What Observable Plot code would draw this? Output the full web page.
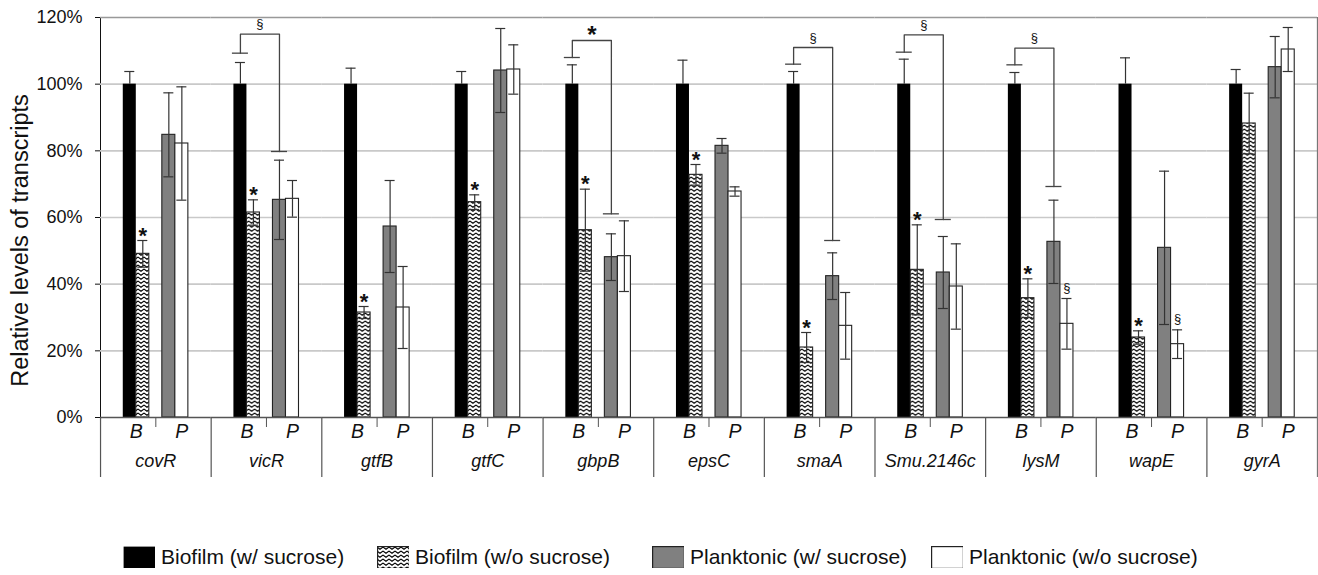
<!DOCTYPE html>
<html><head><meta charset="utf-8">
<script src="https://cdn.jsdelivr.net/npm/d3@7"></script>
<script src="https://cdn.jsdelivr.net/npm/@observablehq/plot@0.6"></script>
<style>
body{margin:0;background:#fff;font-family:"Liberation Sans",Arial,sans-serif;}
#legend{position:relative;height:30px;margin-top:45px;}
.item{position:absolute;top:0;display:flex;align-items:center;font-size:21px;color:#111;white-space:nowrap;}
.sw{width:32px;height:22px;box-sizing:border-box;margin-right:6px;display:block;}
</style></head><body>
<svg width="0" height="0" style="position:absolute">
<defs><pattern id="zz" patternUnits="userSpaceOnUse" width="6" height="4">
<rect width="6" height="4" fill="#fff"/>
<path d="M-0.2,0.9 L3,3.3 L6.2,0.9" fill="none" stroke="#000" stroke-width="1.1"/>
</pattern></defs></svg>
<div id="chart"></div>
<div id="legend"></div>
<script>
// ---- data (values in %) ----
const genes = ["covR","vicR","gtfB","gtfC","gbpB","epsC","smaA","Smu.2146c","lysM","wapE","gyrA"];
const seriesNames = ["Biofilm (w/ sucrose)","Biofilm (w/o sucrose)","Planktonic (w/ sucrose)","Planktonic (w/o sucrose)"];
const bioW      = [100, 100, 100, 100, 100, 100, 100, 100, 100, 100, 100];
const bioWErr   = [3.8, 6.5, 4.8, 3.8, 5.8, 7.2, 3.8, 7.5, 3.5, 7.9, 4.4];
const bioWo     = [49.1, 61.5, 31.5, 64.6, 56.2, 72.8, 21.0, 44.3, 35.8, 24.0, 88.2];
const bioWoErr  = [4.0, 3.8, 1.8, 2.2, 12.3, 3.1, 4.5, 13.5, 5.8, 2.0, 9.1];
const plankW    = [84.8, 65.3, 57.3, 104.1, 48.1, 81.5, 42.4, 43.5, 52.7, 50.9, 105.1];
const plankWErr = [12.6, 11.9, 13.8, 12.6, 7.0, 2.2, 7.0, 10.8, 12.5, 23.0, 9.2];
const plankWo   = [82.2, 65.6, 33.0, 104.4, 48.4, 67.8, 27.5, 39.3, 28.1, 22.0, 110.4];
const plankWoErr= [17.0, 5.5, 12.3, 7.4, 10.6, 1.4, 10.0, 12.8, 7.6, 4.3, 6.6];
const yTicks = [0, 20, 40, 60, 80, 100, 120];
const starGenes = ["covR","vicR","gtfB","gtfC","gbpB","epsC","smaA","Smu.2146c","lysM","wapE"];
const sectGenes = ["lysM","wapE"];
const bracketGenes = ["vicR","gbpB","smaA","Smu.2146c","lysM"];
const bracketLeft  = [109.3, 108.0, 106.0, 109.6, 105.8];
const bracketTop   = [115.0, 113.1, 111.0, 114.8, 110.8];
const bracketRight = [79.8, 61.1, 53.1, 59.4, 69.3];
const bracketLabel = ["§","*","§","§","§"];

// ---- derived tables ----
const slots = ["bw","bwo","gap","pw","pwo"];
const seriesKeys = ["bw","bwo","pw","pwo"];
const seriesFill = ["#000","url(#zz)","#808080","#fff"];
const values = [bioW, bioWo, plankW, plankWo];
const errs = [bioWErr, bioWoErr, plankWErr, plankWoErr];
const rows = genes.flatMap((g, i) => seriesKeys.map((s, k) => ({gene: g, slot: s, value: values[k][i], err: errs[k][i]})));
const hatchRows = rows.filter(d => d.slot === "bwo");
const stars = hatchRows.filter(d => starGenes.includes(d.gene));
const sects = rows.filter(d => d.slot === "pwo" && sectGenes.includes(d.gene));
const bracketPts = bracketGenes.flatMap((g, i) => [
  {gene: g, slot: "bw", y: bracketLeft[i]},
  {gene: g, slot: "bw", y: bracketTop[i]},
  {gene: g, slot: "pw", y: bracketTop[i]},
  {gene: g, slot: "pw", y: bracketRight[i]}
]);
const bracketCaps = bracketGenes.flatMap((g, i) => [
  {gene: g, slot: "bw", y: bracketLeft[i]},
  {gene: g, slot: "pw", y: bracketRight[i]}
]);
const bracketTexts = bracketGenes.map((g, i) => ({gene: g, y: bracketTop[i], label: bracketLabel[i]}));

const barMarks = seriesKeys.map((s, k) =>
  Plot.barY(rows.filter(d => d.slot === s), {
    fx: "gene", x: "slot", y: "value", fill: seriesFill[k],
    stroke: k === 0 ? "none" : "#222", strokeWidth: 1.1
  })
);

const chart = Plot.plot({
  width: 1318, height: 500,
  marginLeft: 100, marginRight: 1, marginTop: 17, marginBottom: 83,
  style: {fontFamily: "'Liberation Sans', Arial, sans-serif", fontSize: "18px", color: "#111", background: "#fff", overflow: "visible"},
  fx: {domain: genes, padding: 0, axis: null, round: false},
  x: {domain: slots, paddingInner: 0, paddingOuter: 1.75, axis: null, round: false},
  y: {domain: [0, 120], ticks: yTicks, tickFormat: d => d + "%", tickSize: 5, tickPadding: 13, line: true, label: null},
  marks: [
    Plot.ruleY(yTicks.filter(t => t > 0 && t < 120), {stroke: "#c9c9c9", strokeWidth: 1.6}),
    Plot.ruleY([120], {stroke: "#999", strokeWidth: 1.3}),
    ...barMarks,
    Plot.ruleX(rows, {fx: "gene", x: "slot", y1: d => d.slot === "bw" ? d.value : d.value - d.err, y2: d => d.value + d.err, stroke: "#333", strokeWidth: 1.2}),
    Plot.tickY(rows, {fx: "gene", x: "slot", y: d => d.value + d.err, stroke: "#333", strokeWidth: 1.2, insetLeft: 1.5, insetRight: 1.5}),
    Plot.tickY(rows.filter(d => d.slot !== "bw"), {fx: "gene", x: "slot", y: d => d.value - d.err, stroke: "#333", strokeWidth: 1.2, insetLeft: 1.5, insetRight: 1.5}),
    Plot.line(bracketPts, {fx: "gene", x: "slot", y: "y", z: "gene", stroke: "#444", strokeWidth: 1.3}),
    Plot.tickY(bracketCaps, {fx: "gene", x: "slot", y: "y", stroke: "#444", strokeWidth: 1.3, insetLeft: -1.5, insetRight: -1.5}),
    Plot.text(bracketTexts.filter(d => d.label === "§"), {fx: "gene", x: () => "gap", y: "y", text: "label", dx: -6.5, dy: -10, fontSize: 13}),
    Plot.text(bracketTexts.filter(d => d.label === "*"), {fx: "gene", x: () => "gap", y: "y", text: "label", dx: -6.5, dy: -5, fontSize: 24, fontWeight: "bold"}),
    Plot.text(stars, {fx: "gene", x: "slot", y: d => d.value + d.err, text: () => "*", dy: -5, fontSize: 22, fontWeight: "bold"}),
    Plot.text(sects, {fx: "gene", x: "slot", y: d => d.value + d.err, text: () => "§", dy: -11, fontSize: 13}),
    Plot.ruleY([0], {stroke: "#555", strokeWidth: 1.3}),
    Plot.ruleX(genes, {fx: d => d, x: () => "bw", dx: -29.25, y1: 0, y2: 0, insetBottom: -60, stroke: "#555", strokeWidth: 1.2}),
    Plot.ruleX(["gyrA"], {fx: d => d, x: () => "pwo", dx: 29.25, y1: 120, y2: 0, insetBottom: -60, stroke: "#777", strokeWidth: 1.2}),
    Plot.ruleX(genes, {fx: d => d, x: () => "gap", y1: 0, y2: 0, insetBottom: -10, stroke: "#555", strokeWidth: 1}),
    Plot.text(genes, {fx: d => d, x: () => "bw", text: () => "B", frameAnchor: "bottom", dx: 6.5, dy: 20, fontStyle: "italic", fontSize: 19.5}),
    Plot.text(genes, {fx: d => d, x: () => "pwo", text: () => "P", frameAnchor: "bottom", dy: 20, fontStyle: "italic", fontSize: 19.5}),
    Plot.text(genes, {fx: d => d, text: d => d, frameAnchor: "bottom", dy: 49, fontStyle: "italic", fontSize: 18}),
    Plot.text(["Relative levels of transcripts"], {fx: () => "covR", text: d => d, frameAnchor: "left", textAnchor: "middle", rotate: -90, dx: -80, dy: 23, fontSize: 23.5})
  ]
});
document.getElementById("chart").appendChild(chart);

// ---- legend ----
const legendLeft = [123, 377, 652, 931];
const legend = document.getElementById("legend");
seriesNames.forEach((name, k) => {
  const item = document.createElement("div");
  item.className = "item";
  item.style.left = legendLeft[k] + "px";
  const sw = document.createElementNS("http://www.w3.org/2000/svg", "svg");
  sw.setAttribute("class", "sw");
  sw.setAttribute("width", 33); sw.setAttribute("height", 23);
  const r = document.createElementNS("http://www.w3.org/2000/svg", "rect");
  r.setAttribute("x", 0.6); r.setAttribute("y", 0.6); r.setAttribute("width", 31.8); r.setAttribute("height", 21.8);
  r.setAttribute("fill", seriesFill[k]);
  r.setAttribute("stroke", k === 0 ? "none" : "#222"); r.setAttribute("stroke-width", 1.2);
  sw.appendChild(r);
  item.appendChild(sw);
  const t = document.createElement("span");
  t.textContent = name;
  item.appendChild(t);
  legend.appendChild(item);
});
</script>
</body></html>
